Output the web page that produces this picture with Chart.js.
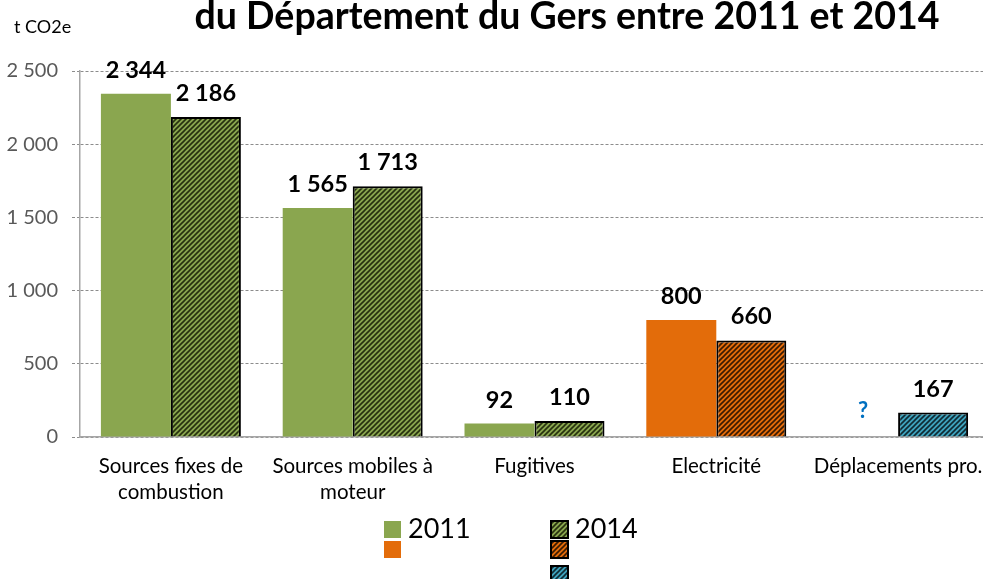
<!DOCTYPE html>
<html><head><meta charset="utf-8">
<script src="https://cdn.jsdelivr.net/npm/chart.js@4"></script>
<style>html,body{margin:0;padding:0;background:#fff;overflow:hidden}#wrap{width:983px;height:579px;position:relative;overflow:hidden}</style>
</head><body><div id="wrap"><canvas id="c" width="989" height="579"></canvas></div>
<script>
const categories = [["Sources fixes de","combustion"],["Sources mobiles à","moteur"],["Fugitives"],["Electricité"],["Déplacements pro."]];
const values2011 = [2344, 1565, 92, 800, null];
const values2014 = [2186, 1713, 110, 660, 167];
const seriesNames = ["2011", "2014"];
const yMax = 2500, yStep = 500;
const titleText = "du Département du Gers entre 2011 et 2014";
const unitText = "t CO2e";
const missingText = "?";

const GREEN = '#8aa64f', ORANGE = '#e36c0a', BLUE = '#3fa3bd';
function hatch(base, line){
  const s = 5, c = document.createElement('canvas'); c.width = s; c.height = s;
  const x = c.getContext('2d');
  x.fillStyle = base; x.fillRect(0,0,s,s);
  x.strokeStyle = line; x.lineWidth = 1.6;
  x.beginPath();
  x.moveTo(-1, s+1); x.lineTo(s+1, -1);
  x.moveTo(-1, 1); x.lineTo(1, -1);
  x.moveTo(s-1, s+1); x.lineTo(s+1, s-1);
  x.stroke();
  return x.createPattern(c, 'repeat');
}
const ctx0 = document.getElementById('c').getContext('2d');
const hGreen = hatch(GREEN, '#26300f'), hOrange = hatch(ORANGE, '#3a1a02'), hBlue = hatch(BLUE, '#0f2a33');
const colors2011 = [GREEN, GREEN, GREEN, ORANGE, GREEN];
const colors2014 = [hGreen, hGreen, hGreen, hOrange, hBlue];
const fmt = v => String(v).replace(/\B(?=(\d{3})+(?!\d))/g, ' ');
const FONT = 'Lato, "Open Sans", sans-serif';

const decor = {
  id: 'decor',
  afterDatasetsDraw(chart){
    const c = chart.ctx;
    c.save();
    c.textAlign = 'center'; c.textBaseline = 'alphabetic';
    chart.data.datasets.forEach((ds, di) => {
      const meta = chart.getDatasetMeta(di);
      meta.data.forEach((bar, i) => {
        const v = ds.data[i];
        if (v === null) {
          c.fillStyle = '#0070c0'; c.font = 'bold 22px ' + FONT;
          c.fillText(missingText, bar.x, chart.scales.y.getPixelForValue(0) - 19);
        } else {
          c.fillStyle = '#000'; c.font = 'bold 23.5px ' + FONT;
          c.fillText(fmt(v), bar.x, bar.y - 16);
        }
      });
    });
    c.restore();
  },
  afterDraw(chart){
    const c = chart.ctx;
    c.save();
    c.fillStyle = '#000';
    c.font = 'bold 37.5px ' + FONT; c.textAlign = 'center'; c.textBaseline = 'alphabetic';
    c.fillText(titleText, 567, 29);
    c.font = '18px ' + FONT; c.textAlign = 'left';
    c.fillText(unitText, 14, 33);
    // legend
    const sw = (x, y, fill, border) => {
      c.fillStyle = fill; c.fillRect(x, y, 17, 17);
      if (border) { c.lineWidth = 2; c.strokeStyle = '#000'; c.strokeRect(x, y, 17, 17); }
    };
    sw(384, 521, GREEN, false); sw(384, 541, ORANGE, false);
    sw(551, 521, hGreen, true); sw(551, 541, hOrange, true); sw(551, 566, hBlue, true);
    c.fillStyle = '#000'; c.font = '27px ' + FONT; c.textAlign = 'left';
    c.fillText(seriesNames[0], 408, 538);
    c.fillText(seriesNames[1], 575, 538);
    c.restore();
  }
};

new Chart(ctx0, {
  type: 'bar',
  data: {
    labels: categories,
    datasets: [
      { label: seriesNames[0], data: values2011, backgroundColor: colors2011, borderWidth: 0 },
      { label: seriesNames[1], data: values2014, backgroundColor: colors2014, borderColor: '#000', borderWidth: 2 }
    ]
  },
  options: {
    responsive: false, animation: false,
    layout: { padding: { top: 71, right: 0, left: 0, bottom: 0 } },
    plugins: { legend: { display: false }, tooltip: { enabled: false }, title: { display: false } },
    datasets: { bar: { categoryPercentage: 0.77, barPercentage: 1.0 } },
    scales: {
      x: {
        grid: { display: false, drawTicks: false },
        border: { display: true, color: '#a6a6a6', width: 1.5 },
        ticks: { color: '#000', font: { family: FONT, size: 20.5, lineHeight: 1.25 }, padding: 17, maxRotation: 0, autoSkip: false },
        afterFit(s){ s.height = 142; s.paddingLeft = 0; s.paddingRight = 0; }
      },
      y: {
        min: 0, max: yMax,
        ticks: { stepSize: yStep, color: '#595959', font: { family: FONT, size: 20 }, padding: 14, callback: v => fmt(v) },
        grid: { color: '#8c8c8c', tickBorderDash: [3, 2], tickLength: 8, tickColor: '#8c8c8c', lineWidth: 1 },
        border: { display: true, color: '#a6a6a6', width: 1.5, dash: [3, 2] },
        afterFit(s){ s.width = 80; s.paddingTop = 0; s.paddingBottom = 0; }
      }
    }
  },
  plugins: [decor]
});
</script></body></html>
